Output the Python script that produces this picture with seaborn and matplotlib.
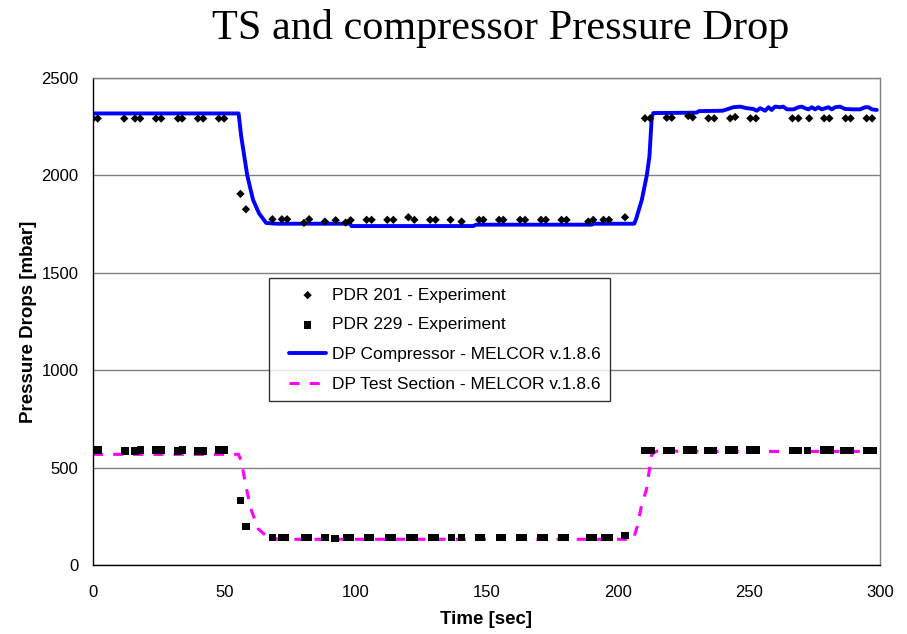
import numpy as np
import pandas as pd
import matplotlib
matplotlib.use("Agg")
import matplotlib.pyplot as plt
from matplotlib.lines import Line2D
from matplotlib.collections import PathCollection
from matplotlib.legend_handler import HandlerLine2D, HandlerPathCollection
import seaborn as sns

# ---------------- data ----------------
pdr201_t = [0, 1.8, 11.9, 16, 18, 24, 26, 32.4, 34, 40, 42, 48, 50,
            56.2, 58.3,
            68.4, 72, 74, 80.4, 82.4, 88.4, 92.5, 96.3, 98.2, 104.3, 106.2, 112.2, 114.5,
            120.2, 122.5, 128.5, 130.6, 136.3, 140.5, 147.2, 148.8, 154.8, 156.4, 162.8,
            164.7, 170.8, 172.6, 178.6, 180.5, 188.8, 190.7, 194.6, 196.7, 202.8,
            210.4, 212.4, 218.7, 220.6, 226.9, 228.6, 234.6, 236.8, 242.9, 244.8, 250.6,
            252.7, 266.6, 268.9, 273, 278.7, 280.7, 286.9, 288.8, 294.9, 297]
pdr201_v = [2292, 2292, 2292, 2292, 2292, 2292, 2292, 2292, 2292, 2292, 2292, 2292, 2292,
            1905, 1826,
            1775, 1775, 1775, 1756, 1775, 1763, 1770, 1758, 1770, 1772, 1772, 1772, 1772,
            1785, 1772, 1772, 1772, 1772, 1763, 1772, 1772, 1772, 1772, 1772,
            1772, 1772, 1772, 1772, 1772, 1763, 1772, 1772, 1772, 1785,
            2293, 2293, 2296, 2296, 2305, 2298, 2293, 2293, 2293, 2300, 2293,
            2293, 2293, 2293, 2293, 2293, 2293, 2293, 2293, 2293, 2293]

pdr229_t = [0, 2, 12.2, 16, 18, 24, 26, 32.3, 34, 40, 42, 48, 50,
            56.3, 58.3,
            68.4, 71.9, 73.2, 80.8, 82, 88.4, 92.3, 96.7, 98.2, 104.6, 105.8, 112.6, 114.1,
            120.9, 122.4, 129.1, 130.6, 136.7, 140.5, 146.9, 148.2, 154.9, 156.2, 162.8,
            164.1, 170.8, 172.1, 178.6, 180.2, 189.2, 190.7, 195.2, 196.7, 202.8,
            210.4, 213, 218.7, 220.6, 226.3, 228.8, 234.2, 236.5, 242.2, 244.3, 250.5,
            252.8, 266.6, 268.9, 272.3, 278.4, 281, 286.3, 288.6, 294.9, 297.4]
pdr229_v = [590, 590, 585, 585, 590, 590, 590, 585, 590, 585, 585, 590, 590,
            330, 197,
            140, 140, 142, 140, 140, 142, 135, 142, 142, 142, 142, 142, 142,
            142, 142, 142, 142, 142, 142, 142, 142, 142, 142, 142,
            142, 142, 142, 142, 142, 142, 142, 142, 142, 150,
            587, 587, 587, 587, 590, 590, 587, 587, 590, 590, 590,
            590, 587, 587, 587, 590, 590, 587, 587, 587, 587]

comp_t = [0, 55.5, 56.5, 58.8, 61.0, 63.3, 66.0, 70, 80, 98, 98.5, 145, 146, 190, 191,
          206.3, 207, 209.2, 211.1, 212.1, 213, 213.6, 230, 231, 240,
          241.6, 244.1, 246.7, 249.2, 251.7, 253, 254.3, 256.2, 257.5, 258.7, 260,
          261.9, 263.2, 264.5, 267, 268.9, 270.2, 271.4, 272.7, 274, 275.3, 276.5,
          277.8, 279.1, 280.3, 281.6, 282.9, 284.8, 286.7, 289.9, 292.4, 294.3,
          295.6, 296.9, 298.8]
comp_v = [2318, 2318, 2200, 2000, 1875, 1805, 1756, 1752, 1752, 1752, 1740, 1740, 1747, 1747, 1752,
          1752, 1775, 1874, 2000, 2096, 2300, 2320, 2322, 2330, 2332,
          2339, 2350, 2353, 2345, 2341, 2332, 2345, 2332, 2350, 2336, 2353,
          2350, 2353, 2339, 2339, 2350, 2353, 2345, 2339, 2350, 2339, 2350,
          2339, 2345, 2350, 2339, 2350, 2353, 2341, 2339, 2339, 2350,
          2350, 2339, 2336]

ts_t = [0, 55.5, 56.6, 58.2, 60.1, 63.0, 66.0, 70.4, 100, 206, 207.5, 209, 211, 212.1,
        213, 215, 240, 298]
ts_v = [568, 568, 530, 410, 291, 185, 150, 132, 132, 132, 200, 300, 389, 491,
        570, 585, 583, 583]

labels = ["PDR 201 - Experiment", "PDR 229 - Experiment",
          "DP Compressor - MELCOR v.1.8.6", "DP Test Section - MELCOR v.1.8.6"]
title = "TS and compressor Pressure Drop"
xlabel = "Time [sec]"
ylabel = "Pressure Drops [mbar]"
xticks = [0, 50, 100, 150, 200, 250, 300]
yticks = [0, 500, 1000, 1500, 2000, 2500]

# ---------------- plot ----------------
sns.set_style("white")
plt.rcParams['font.family'] = ['Liberation Sans', 'DejaVu Sans']
plt.rcParams['text.color'] = 'black'
plt.rcParams['axes.labelcolor'] = 'black'

fig = plt.figure(figsize=(9.07, 6.34), dpi=100)
ax = fig.add_axes([93/907, 1-565/634, (880-93)/907, (565-78)/634])

df_comp = pd.DataFrame({"t": comp_t, "v": comp_v})
df_ts = pd.DataFrame({"t": ts_t, "v": ts_v})
df201 = pd.DataFrame({"t": pdr201_t, "v": pdr201_v})
df229 = pd.DataFrame({"t": pdr229_t, "v": pdr229_v})

for y in yticks:
    ax.axhline(y, color="#808080", lw=1.0, zorder=0)

sns.lineplot(data=df_comp, x="t", y="v", ax=ax, color="#0000FF", lw=2.8,
             estimator=None, sort=False, label=labels[2], zorder=2)
sns.lineplot(data=df_ts, x="t", y="v", ax=ax, color="#FF00FF", lw=2.2,
             estimator=None, sort=False, label=labels[3], zorder=2)
ax.lines[-1].set_dashes((3.3, 3.3))
sns.scatterplot(data=df201, x="t", y="v", ax=ax, marker="D", s=18, color="black",
                edgecolor="none", label=labels[0], zorder=3)
sns.scatterplot(data=df229, x="t", y="v", ax=ax, marker="s", s=28, color="black",
                edgecolor="none", label=labels[1], zorder=3)

ax.set_xlim(0, 300)
ax.set_ylim(0, 2500)
ax.set_xticks(xticks)
ax.set_yticks(yticks)
ax.tick_params(axis="both", direction="out", length=4.5, width=1, colors="black",
               labelsize=12, pad=6)
ax.tick_params(axis="x", pad=10)
for s in ["left", "bottom"]:
    ax.spines[s].set_color("black")
    ax.spines[s].set_linewidth(1.0)
for s in ["top", "right"]:
    ax.spines[s].set_color("#808080")
    ax.spines[s].set_linewidth(1.0)
ax.set_xlabel(xlabel, fontsize=13.5, fontweight="bold", labelpad=8)
ax.set_ylabel(ylabel, fontsize=13.5, fontweight="bold", labelpad=3)

h, l = ax.get_legend_handles_labels()
order = [l.index(x) for x in labels]
leg = ax.legend([h[i] for i in order], [l[i] for i in order],
                loc="upper left", bbox_to_anchor=((269-93)/787, (565-278)/487),
                frameon=True, fancybox=False, fontsize=12.5, handlelength=2.75,
                borderpad=0.55, labelspacing=0.84, handletextpad=0.3, borderaxespad=0,
                handler_map={Line2D: HandlerLine2D(xpad=0.6),
                             PathCollection: HandlerPathCollection(xpad=0.6)})
leg.get_frame().set_edgecolor("black")
leg.get_frame().set_linewidth(1.0)

fig.text(501/907, 1-39.5/634, title, family="Liberation Serif", fontsize=30.4,
         ha="center", va="baseline", color="black")

fig.savefig("out.png", dpi=100)
